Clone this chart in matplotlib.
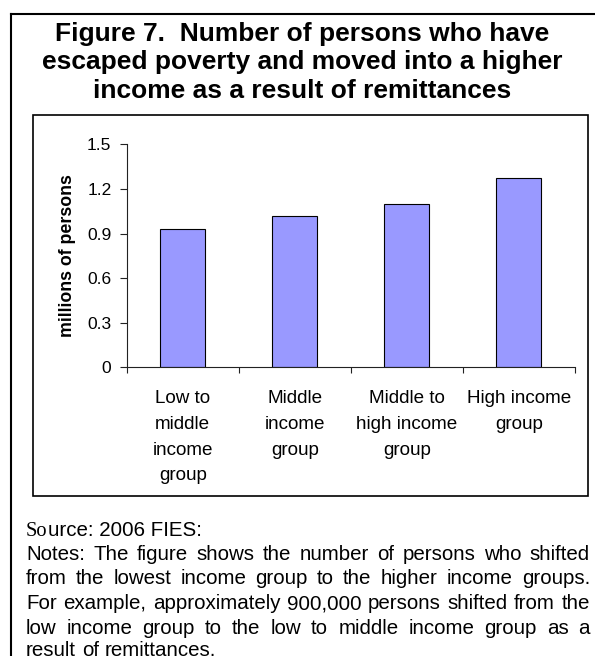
import matplotlib
matplotlib.use("Agg")
import matplotlib.pyplot as plt
from matplotlib.lines import Line2D
from matplotlib.patches import Rectangle

# ---- data ----
categories = [
    "Low to\nmiddle\nincome\ngroup",
    "Middle\nincome\ngroup",
    "Middle to\nhigh income\ngroup",
    "High income\ngroup",
]
persons_millions = [0.93, 1.02, 1.10, 1.27]
y_ticks = [0, 0.3, 0.6, 0.9, 1.2, 1.5]
y_tick_labels = ["0", "0.3", "0.6", "0.9", "1.2", "1.5"]

title = ("Figure 7.  Number of persons who have\n"
         "escaped poverty and moved into a higher\n"
         "income as a result of remittances")
y_label = "millions of persons"
source_serif = "So"
source_rest = "urce: 2006 FIES:"
notes_lines = [
    "Notes: The figure shows the number of persons who shifted",
    "from the lowest income group to the higher income groups.",
    "For example, approximately 900,000 persons shifted from the",
    "low income group to the low to middle income group as a",
    "result of remittances.",
]

# ---- figure setup ----
W, H = 595, 656
SANS = "Liberation Sans"
SERIF = "Liberation Serif"
plt.rcParams["font.family"] = [SANS, "DejaVu Sans"]

fig = plt.figure(figsize=(W / 100, H / 100), dpi=100)


def fx(px):
    return px / W


def fy(py):
    return 1 - py / H


# outer frame: top and left edges
fig.add_artist(Line2D([fx(11), fx(11)], [fy(14), fy(H + 20)],
                      color="black", lw=1.5, solid_capstyle="projecting"))
fig.add_artist(Line2D([fx(11), fx(W + 20)], [fy(14), fy(14)],
                      color="black", lw=1.5, solid_capstyle="projecting"))

# chart area box
fig.add_artist(Rectangle((fx(33), fy(496)), fx(588 - 33), (496 - 115) / H,
                         transform=fig.transFigure, fill=False,
                         edgecolor="black", lw=1.2))

# title
fig.text(fx(302), fy(21.5), title, ha="center", va="top",
         fontsize=19, fontweight="bold", linespacing=1.26, family=SANS)

# ---- bar chart ----
ax_l, ax_r, ax_t, ax_b = 126.7, 574.7, 144.3, 367.3
ax = fig.add_axes([fx(ax_l), fy(ax_b), (ax_r - ax_l) / W, (ax_b - ax_t) / H])

x = list(range(len(categories)))
ax.bar(x, persons_millions, width=0.4, color="#9999FF",
       edgecolor="black", linewidth=0.8, zorder=2)

ax.set_xlim(-0.5, len(categories) - 0.5)
ax.set_ylim(0, 1.5)

for side in ("top", "right"):
    ax.spines[side].set_visible(False)
for side in ("left", "bottom"):
    ax.spines[side].set_linewidth(0.8)
    ax.spines[side].set_color("#222222")

ax.set_yticks(y_ticks)
ax.set_yticklabels(y_tick_labels)
ax.tick_params(axis="y", direction="out", length=5, width=0.8,
               pad=6, labelsize=12.5, color="#222222")

ax.set_xticks([i - 0.5 for i in range(len(categories) + 1)])
ax.set_xticklabels([])
ax.tick_params(axis="x", which="major", direction="out", length=4,
               width=0.8, color="#222222")
ax.set_xticks(x, minor=True)
ax.set_xticklabels(categories, minor=True)
ax.tick_params(axis="x", which="minor", length=0, pad=16.5, labelsize=13.6)
for lbl in ax.get_xticklabels(minor=True):
    lbl.set_linespacing(1.67)
    lbl.set_horizontalalignment("center")
    lbl.set_multialignment("center")

fig.text(fx(67), (fy(ax_b) + fy(ax_t)) / 2, y_label, rotation=90,
         ha="center", va="center", fontsize=12.8, fontweight="bold")

# ---- source and notes ----
renderer = fig.canvas.get_renderer()
NOTE_SIZE = 14.8
left_px, right_px = 26, 590

t1 = fig.text(fx(left_px), fy(536), source_serif, ha="left", va="baseline",
              fontsize=NOTE_SIZE, family=SERIF)
w1 = t1.get_window_extent(renderer).width
fig.text(fx(left_px + w1), fy(536), source_rest, ha="left", va="baseline",
         fontsize=NOTE_SIZE, family=SANS)

baselines = [560, 584.5, 609, 633.5, 656]
for i, (line, base) in enumerate(zip(notes_lines, baselines)):
    words = line.split()
    texts = [fig.text(0, fy(base), w, ha="left", va="baseline",
                      fontsize=NOTE_SIZE, family=SANS) for w in words]
    widths = [t.get_window_extent(renderer).width for t in texts]
    if i < len(notes_lines) - 1 and len(words) > 1:
        gap = (right_px - left_px - sum(widths)) / (len(words) - 1)
    else:
        probe = fig.text(0, 0, "a b", fontsize=NOTE_SIZE, family=SANS)
        ab = probe.get_window_extent(renderer).width
        probe.remove()
        probe = fig.text(0, 0, "ab", fontsize=NOTE_SIZE, family=SANS)
        gap = ab - probe.get_window_extent(renderer).width
        probe.remove()
    pos = left_px
    for t, w in zip(texts, widths):
        t.set_x(fx(pos))
        pos += w + gap

fig.savefig("out.png", dpi=100)
